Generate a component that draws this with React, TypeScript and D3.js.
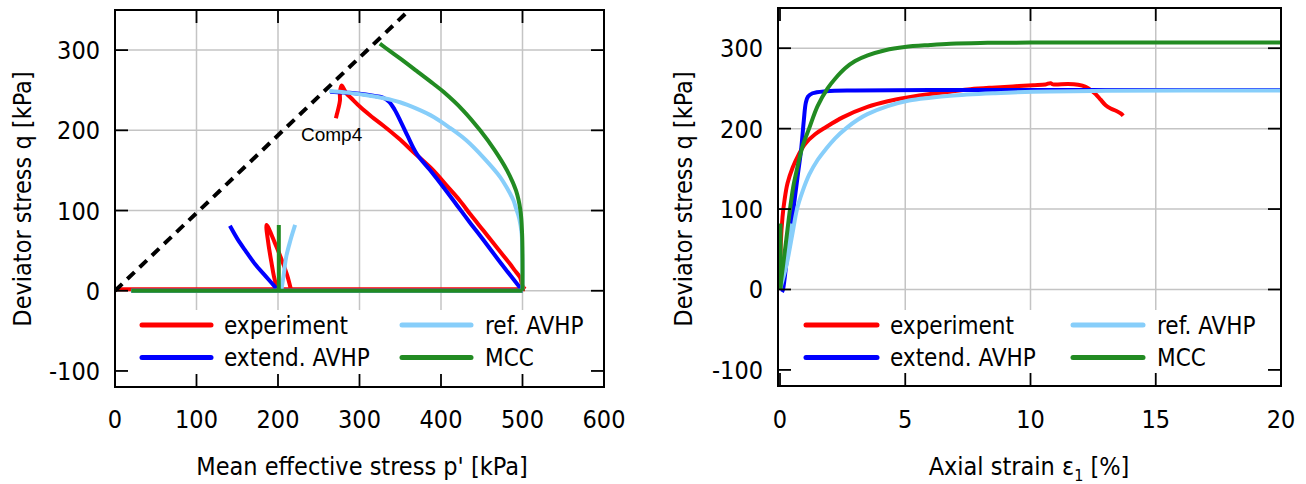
import React from 'react';
import * as d3 from 'd3';

type Pt = [number, number];

// stress paths in the p'-q plane, [p' kPa, q kPa]
const expPQ: Pt[][] = [
  [[0, 2], [503, 2]],
  [[216, 1], [211, 20], [204, 40], [196, 60], [186, 82], [188, 60], [192, 35], [195, 18], [199, 2]],
  [[503, 2], [500, 6], [497, 16.6], [490, 26], [485, 33], [470, 52], [452, 75], [437, 94], [423, 112.5],
    [407, 131], [390.6, 150], [366, 173], [348, 190], [329, 206], [315, 217], [301, 229], [290, 240],
    [284, 246], [280, 253], [278, 256], [276, 248], [276, 237], [274, 227], [272, 219], [271, 215]],
];
const extPQ: Pt[][] = [
  [[20, 0], [500, 0]],
  [[198, 3], [185, 18], [172, 33], [160, 50], [150, 65], [141, 81]],
  [[500, 0], [486, 18], [470, 39], [453, 62], [437, 83], [420, 106], [403, 129], [386, 151], [370, 171],
    [359, 193], [351, 210], [343, 226], [336, 236], [328, 241], [317, 243], [300, 245.5], [288, 246.7],
    [264, 248]],
];
const refPQ: Pt[][] = [
  [[20, 0], [500, 0]],
  [[204, 0], [207, 20], [210, 42], [215, 62], [221, 82]],
  [[500, 2], [500, 30], [499.5, 55], [499, 71], [496, 90], [492, 103], [489, 112.5], [481, 128],
    [472.6, 141.7], [453, 165], [431, 187.5], [411, 203], [391, 216.7], [370, 227], [349.7, 235], [330, 240],
    [309, 243.8], [285, 247], [263, 249]],
];
const mccPQ: Pt[][] = [
  [[20, 0], [500, 0]],
  [[201, 0], [201, 82]],
  [[500, 0], [500, 40], [499.5, 71], [497.5, 100], [492, 125], [481, 150], [466, 175], [448, 200],
    [427, 225], [403, 248], [390.6, 258], [370, 274], [349.7, 289.6], [337, 299], [325, 308]],
];
const cslPQ: Pt[] = [[0, 0], [356, 345]];

// deviator stress against axial strain, [eps1 %, q kPa]
const expEQ: Pt[][] = [
  [[0, 5], [0.03, 57], [0.1, 90], [0.18, 111], [0.3, 132], [0.51, 152], [0.75, 168], [1.0, 181], [1.4, 193],
    [1.84, 202], [2.5, 214], [3.49, 227], [4.3, 234], [5.15, 239], [6.0, 243], [6.8, 246], [7.6, 249],
    [8.46, 251], [9.3, 252.5], [10.1, 254], [10.6, 255], [10.8, 256.5], [10.9, 255], [11.5, 255.5],
    [11.9, 254.5], [12.2, 252], [12.45, 247], [12.6, 243], [12.8, 236], [13.0, 229], [13.2, 225],
    [13.43, 222], [13.6, 219], [13.7, 216]],
];
const extEQ: Pt[][] = [
  [[0.08, -3], [0.12, 0], [0.3, 45], [0.51, 94], [0.7, 140], [0.84, 173], [0.95, 210], [1.03, 232],
    [1.12, 240], [1.3, 244], [1.84, 246.5], [3, 247.5], [6, 248], [20, 248]],
];
const refEQ: Pt[][] = [
  [[0, 0], [0.2, 40], [0.47, 82]],
  [[0, 0], [0.27, 32], [0.5, 70], [0.68, 100], [0.9, 122], [1.17, 143], [1.5, 161], [1.84, 175], [2.2, 188],
    [2.66, 201], [3.1, 211], [3.49, 218], [4.3, 228], [5.15, 235], [6, 238.5], [6.8, 241], [8.5, 244],
    [10.1, 246], [13, 247], [20, 247.5]],
];
const mccEQ: Pt[][] = [
  [[0.02, 0], [0.02, 82]],
  [[0, 0], [0.13, 32], [0.25, 62], [0.4, 100], [0.53, 128], [0.68, 150], [0.9, 178], [1.16, 200],
    [1.5, 228], [1.9, 250], [2.2, 262], [2.6, 275], [3.0, 284], [3.5, 291], [4.2, 297.5], [4.98, 301.5],
    [6, 304], [6.8, 305.5], [8, 306.5], [10, 307], [20, 307]],
];

const seriesNames = ['experiment', 'extend. AVHP', 'ref. AVHP', 'MCC'];
const seriesColors = ['#ff0000', '#0000ff', '#87cefa', '#228b22'];

const pTicks = [0, 100, 200, 300, 400, 500, 600];
const epsTicks = [0, 5, 10, 15, 20];
const qTicks = [-100, 0, 100, 200, 300];

const FONT = "'DejaVu Sans Condensed', 'DejaVu Sans', sans-serif";
const FS = 25;

interface PanelProps {
  id: string;
  left: number; right: number; top: number; bottom: number;
  xDomain: [number, number];
  xTicks: number[];
  series: Pt[][][];
  xTitle: React.ReactNode;
  xTitleX: number;
  yTitleX: number;
  legendX: number[];
  extra?: (x: d3.ScaleLinear<number, number>, y: d3.ScaleLinear<number, number>) => React.ReactNode;
}

const Panel = ({ id, left, right, top, bottom, xDomain, xTicks, series, xTitle, xTitleX, yTitleX, legendX, extra }: PanelProps) => {
  const x = d3.scaleLinear().domain(xDomain).range([left, right]);
  const y = d3.scaleLinear().domain([-120, 350]).range([bottom, top]);
  const line = d3.line<Pt>().x(d => x(d[0])).y(d => y(d[1])).curve(d3.curveCatmullRom.alpha(0.5));
  const tick = 13;
  const legTop = 310;

  return (
    <g>
      <defs>
        <clipPath id={id}>
          <rect x={left} y={top} width={right - left} height={bottom - top} />
        </clipPath>
      </defs>
      {/* grid */}
      <g stroke="#c4c4c4" strokeWidth={1.5}>
        {xTicks.filter(v => x(v) > left + 3 && x(v) < right - 3).map(v => (
          <line key={'gx' + v} x1={x(v)} x2={x(v)} y1={top} y2={bottom} />
        ))}
        {qTicks.map(v => (
          <line key={'gy' + v} x1={left} x2={right} y1={y(v)} y2={y(v)} />
        ))}
      </g>
      <g clipPath={`url(#${id})`} fill="none" strokeWidth={4} strokeLinejoin="round">
        {series.map((segs, i) => segs.map((s, j) => (
          <path key={i + '-' + j} d={line(s) ?? ''} stroke={seriesColors[i]} />
        )))}
        {extra && extra(x, y)}
      </g>
      {/* legend */}
      <rect x={left + 1} y={legTop} width={right - left - 2} height={bottom - legTop - 1} fill="#fff" />
      {seriesNames.map((n, i) => {
        const col = i < 2 ? 0 : 1;
        const row = i % 2;
        const ly = 325 + row * 32.5;
        return (
          <g key={n}>
            <line x1={legendX[col * 3]} x2={legendX[col * 3 + 1]} y1={ly} y2={ly}
              stroke={seriesColors[i]} strokeWidth={5} strokeLinecap="round" />
            <text x={legendX[col * 3 + 2]} y={ly + 8.5} fontSize={24} fontFamily={FONT}>{n}</text>
          </g>
        );
      })}
      {/* ticks */}
      <g stroke="#000" strokeWidth={1.8}>
        {xTicks.map(v => (
          <g key={'tx' + v}>
            <line x1={x(v)} x2={x(v)} y1={bottom} y2={bottom - tick} />
            <line x1={x(v)} x2={x(v)} y1={top} y2={top + tick} />
          </g>
        ))}
        {qTicks.map(v => (
          <g key={'ty' + v}>
            <line x1={left} x2={left + tick} y1={y(v)} y2={y(v)} />
            <line x1={right} x2={right - tick} y1={y(v)} y2={y(v)} />
          </g>
        ))}
      </g>
      <rect x={left} y={top} width={right - left} height={bottom - top} fill="none" stroke="#000" strokeWidth={2} />
      {/* tick labels */}
      <g fontSize={FS} fontFamily={FONT} fill="#000">
        {xTicks.map(v => (
          <text key={'lx' + v} x={x(v)} y={428} textAnchor="middle">{v}</text>
        ))}
        {qTicks.map(v => (
          <text key={'ly' + v} x={left - 15} y={y(v)} dy="0.36em" textAnchor="end">{v}</text>
        ))}
        <text x={xTitleX} y={475} textAnchor="middle">{xTitle}</text>
        <text transform={`translate(${yTitleX},199) rotate(-90)`} textAnchor="middle">Deviator stress q [kPa]</text>
      </g>
    </g>
  );
};

const App = () => {
  return (
    <svg width={1306} height={484} style={{ position: 'absolute', left: 0, top: 0, background: '#fff' }}>
      <rect width={1306} height={484} fill="#fff" />
      <Panel
        id="clipPQ"
        left={115} right={604} top={10} bottom={387}
        xDomain={[0, 600]} xTicks={pTicks}
        series={[expPQ, extPQ, refPQ, mccPQ]}
        xTitle="Mean effective stress p' [kPa]" xTitleX={362} yTitleX={31}
        legendX={[142, 211, 224, 402, 471, 485]}
        extra={(x, y) => (
          <path d={d3.line<Pt>().x(d => x(d[0])).y(d => y(d[1]))(cslPQ) ?? ''}
            stroke="#000" strokeWidth={4} strokeDasharray="10,7" />
        )}
      />
      <text x={301} y={141} fontSize={19} fontFamily="'Liberation Sans', Arial, sans-serif">Comp4</text>
      <Panel
        id="clipEQ"
        left={778} right={1281} top={8} bottom={386}
        xDomain={[-0.08, 20]} xTicks={epsTicks}
        series={[expEQ, extEQ, refEQ, mccEQ]}
        xTitle={<>Axial strain ε<tspan fontSize={16} dy={6}>1</tspan><tspan dy={-6}> [%]</tspan></>}
        xTitleX={1029} yTitleX={692}
        legendX={[806, 877, 890, 1073, 1143, 1157]}
      />
    </svg>
  );
};

export default App;
